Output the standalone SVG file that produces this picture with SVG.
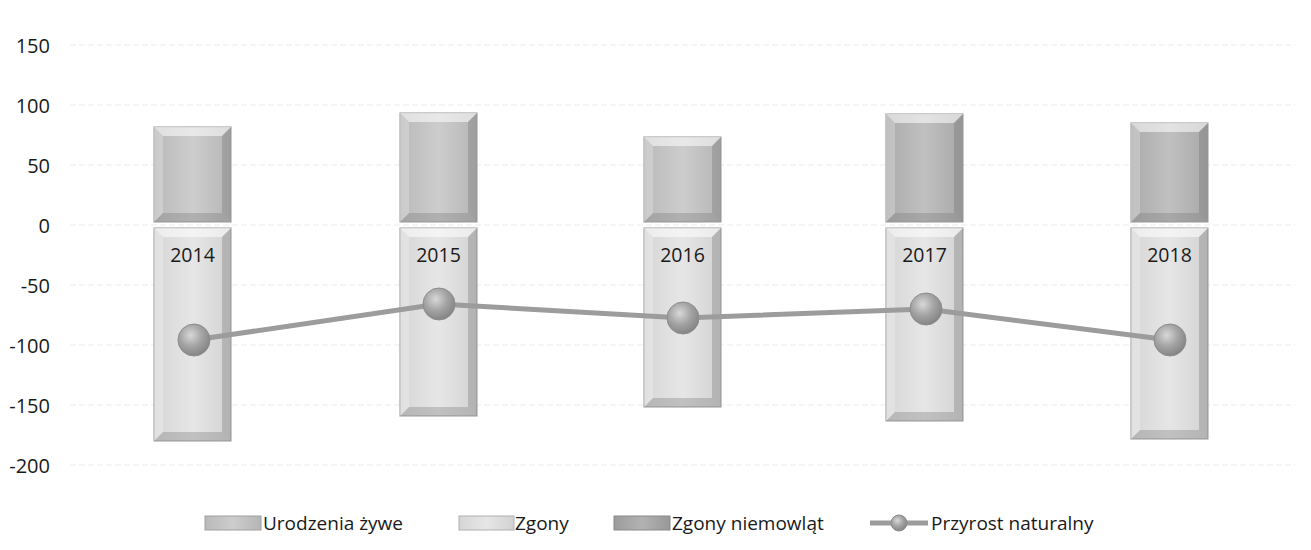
<svg xmlns="http://www.w3.org/2000/svg" width="1311" height="550" viewBox="0 0 1311 550">
<defs>
<style>
text{font-family:"Open Sans","Noto Sans","Liberation Sans",sans-serif;fill:#1a1a1a}
.ax{font-size:20px;text-anchor:end}
.yr{font-size:19.5px;text-anchor:middle}
.lg{font-size:19px}
.grid{stroke:#ebebeb;stroke-width:1;stroke-dasharray:6 3}
.outer{stroke:#a8a8a8;stroke-width:1.2}
.bt{fill:#ffffff;opacity:0.55}
.bb{fill:#7a7a7a;opacity:0.35}
.bl{fill:#ffffff;opacity:0.25}
.br{fill:#6a6a6a;opacity:0.3}
.line{fill:none;stroke:#9c9c9c;stroke-width:5;stroke-linejoin:round}
.dot{fill:url(#ball);stroke:#8c8c8c;stroke-width:1}
</style>
<linearGradient id="gPos" x1="0" y1="0" x2="1" y2="0">
<stop offset="0" stop-color="#b9b9b9"/><stop offset="0.5" stop-color="#cdcdcd"/><stop offset="1" stop-color="#b5b5b5"/>
</linearGradient>
<linearGradient id="gPosD" x1="0" y1="0" x2="1" y2="0">
<stop offset="0" stop-color="#ababab"/><stop offset="0.5" stop-color="#c0c0c0"/><stop offset="1" stop-color="#a8a8a8"/>
</linearGradient>
<linearGradient id="gNeg" x1="0" y1="0" x2="1" y2="0">
<stop offset="0" stop-color="#d6d6d6"/><stop offset="0.5" stop-color="#e6e6e6"/><stop offset="1" stop-color="#d2d2d2"/>
</linearGradient>
<linearGradient id="gNie" x1="0" y1="0" x2="1" y2="0">
<stop offset="0" stop-color="#9c9c9c"/><stop offset="0.5" stop-color="#b2b2b2"/><stop offset="1" stop-color="#989898"/>
</linearGradient>
<radialGradient id="ball" cx="0.4" cy="0.35" r="0.7">
<stop offset="0" stop-color="#d8d8d8"/><stop offset="0.5" stop-color="#a4a4a4"/><stop offset="1" stop-color="#808080"/>
</radialGradient>
</defs>
<rect width="1311" height="550" fill="#ffffff"/>

<g id="grid">
<line class="grid" x1="70" y1="45" x2="1295" y2="45"/>
<line class="grid" x1="70" y1="105" x2="1295" y2="105"/>
<line class="grid" x1="70" y1="165" x2="1295" y2="165"/>
<line class="grid" x1="70" y1="225" x2="1295" y2="225"/>
<line class="grid" x1="70" y1="285" x2="1295" y2="285"/>
<line class="grid" x1="70" y1="345" x2="1295" y2="345"/>
<line class="grid" x1="70" y1="405" x2="1295" y2="405"/>
<line class="grid" x1="70" y1="465" x2="1295" y2="465"/>
</g>

<g id="axis">
<text class="ax" x="50" y="53">150</text>
<text class="ax" x="50" y="113">100</text>
<text class="ax" x="50" y="173">50</text>
<text class="ax" x="50" y="233">0</text>
<text class="ax" x="50" y="293">-50</text>
<text class="ax" x="50" y="353">-100</text>
<text class="ax" x="50" y="413">-150</text>
<text class="ax" x="50" y="473">-200</text>
</g>

<g id="bar-2014">
<rect class="outer" x="154" y="127" width="77" height="95" fill="url(#gPos)"/>
<polygon class="bt" points="154,127 231,127 222,136 163,136"/>
<polygon class="bb" points="154,222 231,222 222,213 163,213"/>
<polygon class="bl" points="154,127 163,136 163,213 154,222"/>
<polygon class="br" points="231,127 222,136 222,213 231,222"/>
<rect class="outer" x="154" y="228" width="77" height="213" fill="url(#gNeg)"/>
<polygon class="bt" points="154,228 231,228 222,237 163,237"/>
<polygon class="bb" points="154,441 231,441 222,432 163,432"/>
<polygon class="bl" points="154,228 163,237 163,432 154,441"/>
<polygon class="br" points="231,228 222,237 222,432 231,441"/>
<text class="yr" x="192.5" y="262">2014</text>
</g>

<g id="bar-2015">
<rect class="outer" x="400" y="113" width="77" height="109" fill="url(#gPos)"/>
<polygon class="bt" points="400,113 477,113 468,122 409,122"/>
<polygon class="bb" points="400,222 477,222 468,213 409,213"/>
<polygon class="bl" points="400,113 409,122 409,213 400,222"/>
<polygon class="br" points="477,113 468,122 468,213 477,222"/>
<rect class="outer" x="400" y="228" width="77" height="188" fill="url(#gNeg)"/>
<polygon class="bt" points="400,228 477,228 468,237 409,237"/>
<polygon class="bb" points="400,416 477,416 468,407 409,407"/>
<polygon class="bl" points="400,228 409,237 409,407 400,416"/>
<polygon class="br" points="477,228 468,237 468,407 477,416"/>
<text class="yr" x="438.5" y="262">2015</text>
</g>

<g id="bar-2016">
<rect class="outer" x="644" y="137" width="77" height="85" fill="url(#gPos)"/>
<polygon class="bt" points="644,137 721,137 712,146 653,146"/>
<polygon class="bb" points="644,222 721,222 712,213 653,213"/>
<polygon class="bl" points="644,137 653,146 653,213 644,222"/>
<polygon class="br" points="721,137 712,146 712,213 721,222"/>
<rect class="outer" x="644" y="228" width="77" height="179" fill="url(#gNeg)"/>
<polygon class="bt" points="644,228 721,228 712,237 653,237"/>
<polygon class="bb" points="644,407 721,407 712,398 653,398"/>
<polygon class="bl" points="644,228 653,237 653,398 644,407"/>
<polygon class="br" points="721,228 712,237 712,398 721,407"/>
<text class="yr" x="682.5" y="262">2016</text>
</g>

<g id="bar-2017">
<rect class="outer" x="886" y="114" width="77" height="108" fill="url(#gPosD)"/>
<polygon class="bt" points="886,114 963,114 954,123 895,123"/>
<polygon class="bb" points="886,222 963,222 954,213 895,213"/>
<polygon class="bl" points="886,114 895,123 895,213 886,222"/>
<polygon class="br" points="963,114 954,123 954,213 963,222"/>
<rect class="outer" x="886" y="228" width="77" height="193" fill="url(#gNeg)"/>
<polygon class="bt" points="886,228 963,228 954,237 895,237"/>
<polygon class="bb" points="886,421 963,421 954,412 895,412"/>
<polygon class="bl" points="886,228 895,237 895,412 886,421"/>
<polygon class="br" points="963,228 954,237 954,412 963,421"/>
<text class="yr" x="924.5" y="262">2017</text>
</g>

<g id="bar-2018">
<rect class="outer" x="1131" y="123" width="77" height="99" fill="url(#gPosD)"/>
<polygon class="bt" points="1131,123 1208,123 1199,132 1140,132"/>
<polygon class="bb" points="1131,222 1208,222 1199,213 1140,213"/>
<polygon class="bl" points="1131,123 1140,132 1140,213 1131,222"/>
<polygon class="br" points="1208,123 1199,132 1199,213 1208,222"/>
<rect class="outer" x="1131" y="228" width="77" height="211" fill="url(#gNeg)"/>
<polygon class="bt" points="1131,228 1208,228 1199,237 1140,237"/>
<polygon class="bb" points="1131,439 1208,439 1199,430 1140,430"/>
<polygon class="bl" points="1131,228 1140,237 1140,430 1131,439"/>
<polygon class="br" points="1208,228 1199,237 1199,430 1208,439"/>
<text class="yr" x="1169.5" y="262">2018</text>
</g>

<g id="connectors">
<polyline class="line" points="194,340 439,304 683,318 926,309 1170,340"/>
</g>

<g id="points">
<circle class="dot" cx="194" cy="340" r="16"/>
<circle class="dot" cx="439" cy="304" r="16"/>
<circle class="dot" cx="683" cy="318" r="16"/>
<circle class="dot" cx="926" cy="309" r="16"/>
<circle class="dot" cx="1170" cy="340" r="16"/>
</g>

<g id="legend">
<rect x="205" y="516" width="56" height="14" fill="url(#gPos)" stroke="#a0a0a0"/>
<text class="lg" x="263" y="530">Urodzenia żywe</text>
<rect x="459" y="516" width="55" height="14" fill="url(#gNeg)" stroke="#b0b0b0"/>
<text class="lg" x="515" y="530">Zgony</text>
<rect x="614" y="516" width="56" height="14" fill="url(#gNie)" stroke="#8a8a8a"/>
<text class="lg" x="672" y="530">Zgony niemowląt</text>
<line x1="870" y1="523" x2="928" y2="523" stroke="#9c9c9c" stroke-width="5"/>
<circle class="dot" cx="899" cy="523" r="8"/>
<text class="lg" x="931" y="530">Przyrost naturalny</text>
</g>
</svg>
